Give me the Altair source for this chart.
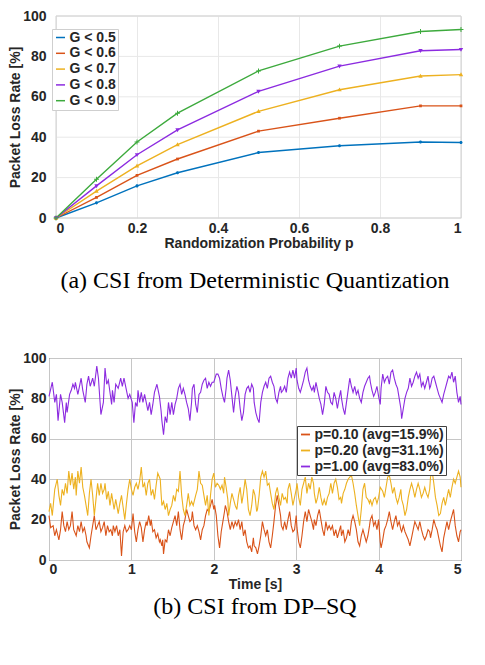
import altair as alt
import pandas as pd

# ---------------- (a) packet loss vs randomization probability ----------------
p_values = [0, 0.1, 0.2, 0.3, 0.5, 0.7, 0.9, 1.0]
g_labels = ["G < 0.5", "G < 0.6", "G < 0.7", "G < 0.8", "G < 0.9"]
loss_g05 = [0, 7.5, 15.9, 22.4, 32.4, 35.8, 37.6, 37.4]
loss_g06 = [0, 10.2, 21.1, 29.2, 43.0, 49.4, 55.5, 55.5]
loss_g07 = [0, 13.3, 25.8, 36.3, 52.8, 63.5, 70.3, 71.0]
loss_g08 = [0, 15.9, 31.3, 43.6, 62.7, 75.2, 82.8, 83.4]
loss_g09 = [0, 19.2, 37.6, 51.9, 72.8, 85.1, 92.3, 93.3]
g_colors = ["#0072BD", "#D95319", "#EDB120", "#8C2BE0", "#3DAA3D"]
g_markers = [
    "M-0.28,0A0.28,0.28,0,1,0,0.28,0A0.28,0.28,0,1,0,-0.28,0Z",
    "M-0.25,-0.25H0.25V0.25H-0.25Z",
    "M0,-0.42L0.4,0.3H-0.4Z",
    "M0,0.42L0.4,-0.3H-0.4Z",
    "M-0.45,-0.09H-0.09V-0.45H0.09V-0.09H0.45V0.09H0.09V0.45H-0.09V0.09H-0.45Z",
]
top_x_ticks = [0, 0.2, 0.4, 0.6, 0.8, 1.0]
loss_ticks = [0, 20, 40, 60, 80, 100]

# ---------------- (b) packet loss over time ----------------
ts_labels = ["p=0.10 (avg=15.9%)", "p=0.20 (avg=31.1%)", "p=1.00 (avg=83.0%)"]
ts_colors = ["#D95319", "#EDB120", "#8C2BE0"]
time_ticks = [0, 1, 2, 3, 4, 5]

loss_p010 = [
    (0.00, 22), (0.02, 16), (0.05, 17), (0.07, 12), (0.09, 15), (0.12, 10), (0.14, 15), (0.16, 24), (0.18, 17), (0.20, 14),
    (0.22, 19), (0.24, 15), (0.26, 17), (0.28, 24), (0.30, 15), (0.33, 12), (0.35, 17), (0.37, 14), (0.39, 19), (0.41, 14),
    (0.43, 16), (0.45, 12), (0.46, 9), (0.49, 6), (0.51, 12), (0.53, 17), (0.55, 22), (0.57, 15), (0.59, 17), (0.61, 19),
    (0.63, 14), (0.65, 16), (0.67, 19), (0.69, 12), (0.71, 17), (0.73, 14), (0.75, 15), (0.77, 12), (0.78, 17), (0.80, 14),
    (0.82, 17), (0.84, 12), (0.86, 15), (0.88, 2), (0.90, 14), (0.92, 17), (0.94, 14), (0.96, 15), (0.98, 17),
    (1.00, 15), (1.02, 23), (1.04, 14), (1.06, 9), (1.08, 15), (1.10, 19), (1.12, 16), (1.14, 9), (1.16, 15), (1.18, 19),
    (1.19, 17), (1.21, 22), (1.23, 17), (1.24, 20), (1.26, 14), (1.28, 15), (1.30, 11), (1.32, 13), (1.34, 9), (1.35, 10),
    (1.37, 7), (1.38, 10), (1.39, 3), (1.41, 10), (1.43, 9), (1.45, 15), (1.47, 12), (1.49, 16), (1.51, 19), (1.53, 22),
    (1.55, 17), (1.57, 24), (1.59, 15), (1.61, 10), (1.63, 17), (1.65, 20), (1.67, 25), (1.69, 22), (1.71, 19), (1.73, 20),
    (1.74, 24), (1.76, 17), (1.78, 15), (1.80, 17), (1.82, 14), (1.84, 10), (1.86, 15), (1.88, 17), (1.90, 22), (1.92, 25),
    (1.94, 24), (1.96, 27), (1.98, 30),
    (2.00, 25), (2.01, 27), (2.03, 22), (2.05, 12), (2.07, 6), (2.09, 14), (2.11, 19), (2.13, 24), (2.14, 27), (2.16, 24),
    (2.18, 19), (2.20, 15), (2.22, 19), (2.24, 16), (2.26, 19), (2.28, 17), (2.30, 20), (2.32, 15), (2.34, 19), (2.36, 12),
    (2.38, 15), (2.40, 9), (2.42, 6), (2.44, 7), (2.46, 4), (2.48, 11), (2.49, 7), (2.51, 6), (2.53, 3), (2.55, 7),
    (2.57, 12), (2.59, 19), (2.61, 15), (2.63, 12), (2.65, 15), (2.67, 9), (2.69, 6), (2.71, 12), (2.73, 19), (2.75, 27),
    (2.77, 32), (2.79, 27), (2.81, 22), (2.82, 17), (2.84, 15), (2.86, 19), (2.88, 15), (2.90, 20), (2.92, 24), (2.94, 17),
    (2.96, 14), (2.98, 15),
    (3.00, 22), (3.01, 16), (3.03, 9), (3.05, 6), (3.07, 12), (3.09, 19), (3.11, 24), (3.13, 19), (3.15, 25), (3.17, 22),
    (3.19, 19), (3.21, 15), (3.22, 20), (3.24, 17), (3.26, 22), (3.28, 25), (3.30, 20), (3.32, 15), (3.34, 12), (3.36, 19),
    (3.38, 15), (3.40, 17), (3.42, 15), (3.44, 17), (3.46, 12), (3.48, 15), (3.50, 11), (3.52, 14), (3.54, 17), (3.55, 12),
    (3.57, 15), (3.59, 9), (3.61, 11), (3.63, 15), (3.65, 12), (3.67, 19), (3.69, 22), (3.71, 19), (3.73, 15), (3.75, 9),
    (3.77, 7), (3.79, 12), (3.81, 15), (3.83, 12), (3.85, 9), (3.87, 12), (3.89, 17), (3.90, 20), (3.92, 22), (3.94, 17),
    (3.96, 19), (3.98, 15),
    (4.00, 20), (4.02, 9), (4.03, 6), (4.05, 10), (4.07, 15), (4.09, 17), (4.11, 20), (4.13, 24), (4.15, 19), (4.17, 15),
    (4.19, 19), (4.21, 22), (4.23, 17), (4.25, 19), (4.27, 15), (4.28, 14), (4.30, 17), (4.32, 14), (4.34, 12), (4.36, 10),
    (4.38, 7), (4.40, 11), (4.42, 15), (4.44, 19), (4.46, 17), (4.48, 15), (4.50, 19), (4.52, 15), (4.54, 12), (4.56, 10),
    (4.58, 12), (4.60, 15), (4.62, 14), (4.63, 11), (4.65, 15), (4.67, 20), (4.69, 17), (4.71, 15), (4.73, 11), (4.75, 7),
    (4.77, 4), (4.79, 11), (4.81, 15), (4.83, 19), (4.85, 15), (4.87, 19), (4.89, 22), (4.91, 25), (4.93, 17), (4.95, 12),
    (4.97, 9), (4.99, 14), (5.00, 15),
]

loss_p020 = [
    (0.00, 24), (0.02, 28), (0.04, 22), (0.07, 35), (0.10, 40), (0.12, 32), (0.14, 27), (0.16, 35), (0.18, 32), (0.20, 38),
    (0.22, 33), (0.24, 44), (0.26, 37), (0.28, 43), (0.30, 35), (0.32, 41), (0.33, 32), (0.35, 44), (0.37, 38), (0.39, 46),
    (0.41, 36), (0.43, 32), (0.45, 27), (0.47, 22), (0.49, 33), (0.51, 40), (0.53, 32), (0.55, 22), (0.57, 30), (0.59, 38),
    (0.61, 32), (0.63, 38), (0.65, 33), (0.67, 35), (0.68, 38), (0.70, 30), (0.72, 34), (0.74, 27), (0.76, 33), (0.79, 25),
    (0.81, 30), (0.84, 23), (0.86, 28), (0.88, 32), (0.90, 26), (0.92, 20), (0.94, 28), (0.96, 35), (0.98, 40),
    (1.00, 35), (1.02, 32), (1.04, 36), (1.06, 38), (1.08, 35), (1.10, 39), (1.12, 46), (1.14, 36), (1.16, 38), (1.18, 32),
    (1.20, 38), (1.22, 40), (1.24, 32), (1.26, 35), (1.28, 30), (1.30, 37), (1.32, 43), (1.35, 40), (1.36, 33), (1.37, 27),
    (1.39, 29), (1.41, 25), (1.43, 28), (1.45, 22), (1.47, 25), (1.49, 27), (1.51, 32), (1.53, 29), (1.55, 35), (1.57, 34),
    (1.59, 44), (1.61, 32), (1.63, 25), (1.65, 22), (1.67, 27), (1.69, 33), (1.71, 27), (1.73, 29), (1.75, 27), (1.78, 32),
    (1.80, 35), (1.82, 44), (1.84, 38), (1.86, 37), (1.88, 32), (1.90, 27), (1.92, 32), (1.94, 22), (1.96, 32), (1.98, 40),
    (2.00, 43), (2.02, 36), (2.04, 38), (2.06, 37), (2.08, 35), (2.10, 37), (2.12, 33), (2.13, 41), (2.15, 36), (2.17, 30),
    (2.18, 22), (2.20, 28), (2.22, 33), (2.24, 30), (2.26, 27), (2.28, 25), (2.30, 32), (2.32, 36), (2.34, 28), (2.36, 33),
    (2.38, 40), (2.40, 35), (2.42, 25), (2.44, 22), (2.46, 27), (2.48, 35), (2.50, 32), (2.52, 24), (2.53, 25), (2.55, 32),
    (2.57, 41), (2.59, 44), (2.61, 41), (2.63, 44), (2.65, 37), (2.67, 38), (2.69, 33), (2.71, 28), (2.73, 25), (2.75, 33),
    (2.77, 36), (2.79, 31), (2.81, 27), (2.83, 33), (2.85, 30), (2.87, 31), (2.89, 28), (2.90, 35), (2.92, 38), (2.94, 33),
    (2.96, 27), (2.98, 31),
    (3.00, 35), (3.01, 38), (3.03, 31), (3.05, 27), (3.07, 35), (3.09, 38), (3.11, 41), (3.13, 33), (3.15, 38), (3.17, 35),
    (3.19, 41), (3.21, 38), (3.22, 33), (3.24, 28), (3.26, 31), (3.28, 36), (3.30, 31), (3.32, 27), (3.34, 30), (3.36, 27),
    (3.38, 31), (3.40, 33), (3.42, 38), (3.44, 33), (3.46, 38), (3.48, 40), (3.50, 36), (3.52, 30), (3.54, 31), (3.55, 28),
    (3.57, 33), (3.59, 35), (3.61, 38), (3.63, 40), (3.65, 41), (3.67, 42), (3.69, 38), (3.71, 33), (3.73, 27), (3.75, 22),
    (3.77, 17), (3.79, 25), (3.81, 35), (3.83, 38), (3.85, 31), (3.87, 30), (3.89, 28), (3.90, 30), (3.92, 27), (3.94, 30),
    (3.96, 31), (3.98, 28),
    (4.00, 31), (4.02, 36), (4.05, 34), (4.07, 31), (4.09, 36), (4.11, 41), (4.13, 42), (4.15, 38), (4.17, 33), (4.19, 36),
    (4.21, 31), (4.23, 28), (4.25, 31), (4.27, 35), (4.28, 30), (4.30, 27), (4.32, 22), (4.34, 25), (4.36, 31), (4.38, 35),
    (4.40, 38), (4.42, 35), (4.44, 31), (4.46, 35), (4.48, 38), (4.50, 35), (4.52, 31), (4.54, 33), (4.56, 36), (4.58, 33),
    (4.60, 31), (4.62, 35), (4.63, 41), (4.65, 44), (4.67, 38), (4.69, 31), (4.71, 27), (4.73, 22), (4.75, 23), (4.77, 28),
    (4.79, 31), (4.81, 27), (4.83, 31), (4.85, 35), (4.87, 31), (4.89, 36), (4.91, 40), (4.93, 38), (4.95, 41), (4.97, 44),
    (4.99, 41), (5.00, 36),
]

loss_p100 = [
    (0.00, 81), (0.04, 88), (0.07, 78), (0.09, 82), (0.11, 69), (0.14, 82), (0.16, 78), (0.19, 68), (0.21, 78), (0.22, 73),
    (0.25, 82), (0.27, 84), (0.29, 87), (0.31, 85), (0.32, 88), (0.35, 82), (0.37, 86), (0.39, 90), (0.41, 84), (0.44, 78),
    (0.46, 87), (0.48, 91), (0.50, 86), (0.53, 90), (0.55, 86), (0.58, 96), (0.60, 90), (0.62, 78), (0.63, 72), (0.66, 78),
    (0.68, 95), (0.70, 87), (0.72, 89), (0.76, 77), (0.77, 84), (0.79, 78), (0.81, 87), (0.84, 85), (0.87, 90), (0.89, 86),
    (0.91, 90), (0.94, 84), (0.96, 80), (0.98, 82),
    (1.01, 78), (1.03, 68), (1.05, 78), (1.07, 76), (1.08, 84), (1.10, 78), (1.12, 83), (1.14, 78), (1.16, 82), (1.18, 78),
    (1.20, 74), (1.22, 78), (1.24, 72), (1.26, 77), (1.28, 83), (1.31, 87), (1.34, 81), (1.36, 74), (1.37, 69), (1.39, 62),
    (1.41, 71), (1.43, 68), (1.45, 78), (1.47, 72), (1.49, 78), (1.51, 72), (1.53, 77), (1.55, 80), (1.57, 85), (1.59, 87),
    (1.61, 82), (1.63, 85), (1.65, 82), (1.67, 78), (1.69, 75), (1.71, 69), (1.73, 78), (1.74, 85), (1.76, 87), (1.78, 77),
    (1.80, 73), (1.82, 82), (1.84, 83), (1.86, 87), (1.88, 89), (1.90, 90), (1.92, 85), (1.94, 88), (1.96, 86), (1.98, 88),
    (2.00, 88), (2.03, 92), (2.05, 92), (2.07, 90), (2.09, 85), (2.11, 81), (2.13, 78), (2.15, 85), (2.16, 90), (2.18, 94),
    (2.20, 89), (2.22, 81), (2.24, 73), (2.26, 81), (2.28, 86), (2.30, 83), (2.32, 75), (2.34, 69), (2.36, 73), (2.38, 82),
    (2.40, 85), (2.42, 86), (2.44, 83), (2.46, 87), (2.48, 85), (2.49, 78), (2.51, 73), (2.53, 70), (2.55, 68), (2.57, 78),
    (2.59, 83), (2.61, 86), (2.63, 88), (2.65, 85), (2.67, 90), (2.69, 91), (2.71, 88), (2.73, 86), (2.75, 80), (2.77, 78),
    (2.79, 83), (2.81, 86), (2.82, 83), (2.84, 84), (2.86, 86), (2.88, 83), (2.90, 90), (2.92, 93), (2.94, 90), (2.96, 94),
    (2.98, 90),
    (3.00, 95), (3.01, 89), (3.03, 85), (3.05, 83), (3.07, 86), (3.09, 89), (3.11, 93), (3.13, 95), (3.15, 89), (3.17, 86),
    (3.19, 84), (3.21, 86), (3.22, 83), (3.24, 88), (3.26, 84), (3.28, 80), (3.30, 77), (3.32, 72), (3.34, 77), (3.36, 86),
    (3.38, 83), (3.40, 82), (3.42, 78), (3.44, 77), (3.46, 83), (3.48, 80), (3.50, 75), (3.52, 80), (3.54, 84), (3.55, 80),
    (3.57, 75), (3.59, 72), (3.61, 78), (3.63, 84), (3.65, 90), (3.67, 86), (3.69, 83), (3.71, 86), (3.73, 82), (3.75, 84),
    (3.77, 80), (3.79, 78), (3.81, 83), (3.83, 86), (3.85, 88), (3.87, 90), (3.89, 91), (3.90, 88), (3.92, 84), (3.94, 81),
    (3.96, 83), (3.98, 86),
    (4.00, 81), (4.02, 77), (4.03, 85), (4.05, 92), (4.07, 88), (4.09, 90), (4.11, 91), (4.13, 87), (4.15, 93), (4.17, 94),
    (4.19, 90), (4.21, 87), (4.23, 85), (4.25, 80), (4.27, 75), (4.28, 70), (4.30, 75), (4.32, 80), (4.34, 83), (4.36, 85),
    (4.38, 90), (4.40, 86), (4.42, 88), (4.44, 91), (4.46, 93), (4.48, 90), (4.50, 92), (4.52, 86), (4.54, 88), (4.56, 85),
    (4.58, 88), (4.60, 91), (4.62, 85), (4.63, 86), (4.65, 90), (4.67, 91), (4.69, 88), (4.71, 85), (4.73, 82), (4.75, 80),
    (4.77, 78), (4.79, 82), (4.81, 85), (4.83, 88), (4.85, 91), (4.87, 90), (4.89, 93), (4.91, 88), (4.93, 91), (4.95, 83),
    (4.97, 78), (4.99, 81), (5.00, 77),
]

# ---------------- data frames ----------------
top_rows = []
for lab, vals in zip(g_labels, [loss_g05, loss_g06, loss_g07, loss_g08, loss_g09]):
    for p, v in zip(p_values, vals):
        top_rows.append({"p": p, "loss": v, "series": lab})
top_df = pd.DataFrame(top_rows)

bot_rows = []
for lab, pts in zip(ts_labels, [loss_p010, loss_p020, loss_p100]):
    for t, v in pts:
        bot_rows.append({"t": t, "loss": v, "run": lab})
bot_df = pd.DataFrame(bot_rows)

hgrid_df = pd.DataFrame({"g": loss_ticks})
vframe_df = pd.DataFrame({"u": [top_x_ticks[0], top_x_ticks[-1]]})

SANS = "Liberation Sans"
SERIF = "Liberation Serif"
INK = "#262626"

def axis(title, values, grid, grid_color, label_pad, title_pad, fmt=None, title_x=None):
    kw = dict(
        title=title, values=values, grid=grid, gridColor=grid_color, gridWidth=1,
        domain=False, ticks=False, labelPadding=label_pad, titlePadding=title_pad,
        labelOverlap=False,
        labelFont=SANS, labelFontSize=14, labelFontWeight="bold", labelColor=INK,
        titleFont=SANS, titleFontSize=14, titleFontWeight="bold", titleColor=INK,
    )
    if fmt:
        kw["format"] = fmt
    if title_x is not None:
        kw["titleX"] = title_x
    return alt.Axis(**kw)

legend_common = dict(
    orient="none", title=None, labelFont=SANS, labelFontSize=14, labelFontWeight="bold",
    labelColor=INK, symbolSize=81, labelOffset=2,
)

# ---------------- top chart ----------------
TOP_W = 412
TOP_R0 = 7
x_scale_top = alt.Scale(domain=[0, 1], nice=False, range=[TOP_R0, TOP_W])
x_top = alt.X("p:Q", scale=x_scale_top,
              axis=axis("Randomization Probability p", top_x_ticks, True, "#e8e8e8", 3, 1, "~g",
                        (TOP_R0 + TOP_W) / 2))
y_top = alt.Y("loss:Q", scale=alt.Scale(domain=[0, 100], nice=False),
              axis=axis("Packet Loss Rate [%]", loss_ticks, False, "#e8e8e8", 3, 0))

top_hgrid = alt.Chart(hgrid_df).mark_rule(color="#e8e8e8", strokeWidth=1).encode(
    y=alt.Y("g:Q", scale=alt.Scale(domain=[0, 100], nice=False),
            axis=axis("Packet Loss Rate [%]", loss_ticks, False, "#e8e8e8", 3, 0)),
    x=alt.datum(0, scale=x_scale_top),
    x2=alt.datum(1),
)
top_hframe = alt.Chart(hgrid_df).transform_filter("datum.g == 0 || datum.g == 100").mark_rule(
    color="#d0d0d0", strokeWidth=1).encode(y="g:Q", x=alt.datum(0), x2=alt.datum(1))
top_vframe = alt.Chart(vframe_df).mark_rule(color="#d0d0d0", strokeWidth=1).encode(
    x="u:Q", y=alt.datum(0), y2=alt.datum(100))

top_lines = alt.Chart(top_df).mark_line(strokeWidth=1.4).encode(
    x=x_top, y=y_top,
    color=alt.Color("series:N", scale=alt.Scale(domain=g_labels, range=g_colors),
                    legend=alt.Legend(legendX=TOP_R0 - 4, legendY=13, symbolType="stroke", symbolStrokeWidth=1.5,
                                      fillColor="white", strokeColor="#cfcfcf", padding=1.5, rowPadding=1.8,
                                      **legend_common)),
)
top_points = alt.Chart(top_df).mark_point(filled=True, size=120, opacity=1).encode(
    x="p:Q", y="loss:Q",
    fill=alt.Fill("series:N", scale=alt.Scale(range=g_colors), legend=None),
    shape=alt.Shape("series:N", scale=alt.Scale(range=g_markers), legend=None),
)
top_chart = alt.layer(top_hgrid, top_hframe, top_vframe, top_lines, top_points).properties(
    width=TOP_W, height=202,
    view=alt.ViewBackground(stroke="transparent"),
    title=alt.TitleParams("(a) CSI from Deterministic Quantization", orient="bottom", anchor="middle",
                          frame="group", font=SERIF, fontSize=24, fontWeight="normal", color="black", offset=19),
)

# ---------------- bottom chart ----------------
x_bot = alt.X("t:Q", scale=alt.Scale(domain=[0, 5], nice=False),
              axis=axis("Time [s]", time_ticks, True, "#c6c6c6", 2, 1))
y_bot = alt.Y("loss:Q", scale=alt.Scale(domain=[0, 100], nice=False),
              axis=axis("Packet Loss Rate [%]", loss_ticks, True, "#c6c6c6", 3, 0))

bot_chart = alt.Chart(bot_df).mark_line(strokeWidth=1.1).encode(
    x=x_bot, y=y_bot,
    stroke=alt.Stroke("run:N", scale=alt.Scale(domain=ts_labels, range=ts_colors),
                      legend=alt.Legend(legendX=248, legendY=68, symbolType="stroke", symbolStrokeWidth=1.8,
                                        fillColor="white", strokeColor="#404040", padding=1.5, rowPadding=2,
                                        **legend_common)),
).properties(
    width=412, height=202,
    view=alt.ViewBackground(stroke="#262626", strokeWidth=1),
    title=alt.TitleParams("(b) CSI from DP\u2013SQ", orient="bottom", anchor="middle",
                          frame="group", font=SERIF, fontSize=24, fontWeight="normal", color="black", offset=4),
)

chart = alt.vconcat(top_chart, bot_chart, spacing=56).resolve_scale(
    color="independent", fill="independent", shape="independent", stroke="independent",
).properties(
    padding={"left": 0, "top": 0, "right": 0, "bottom": 0},
    background="white",
)

chart.save("out.html", embed_options={"renderer": "svg", "actions": False})
